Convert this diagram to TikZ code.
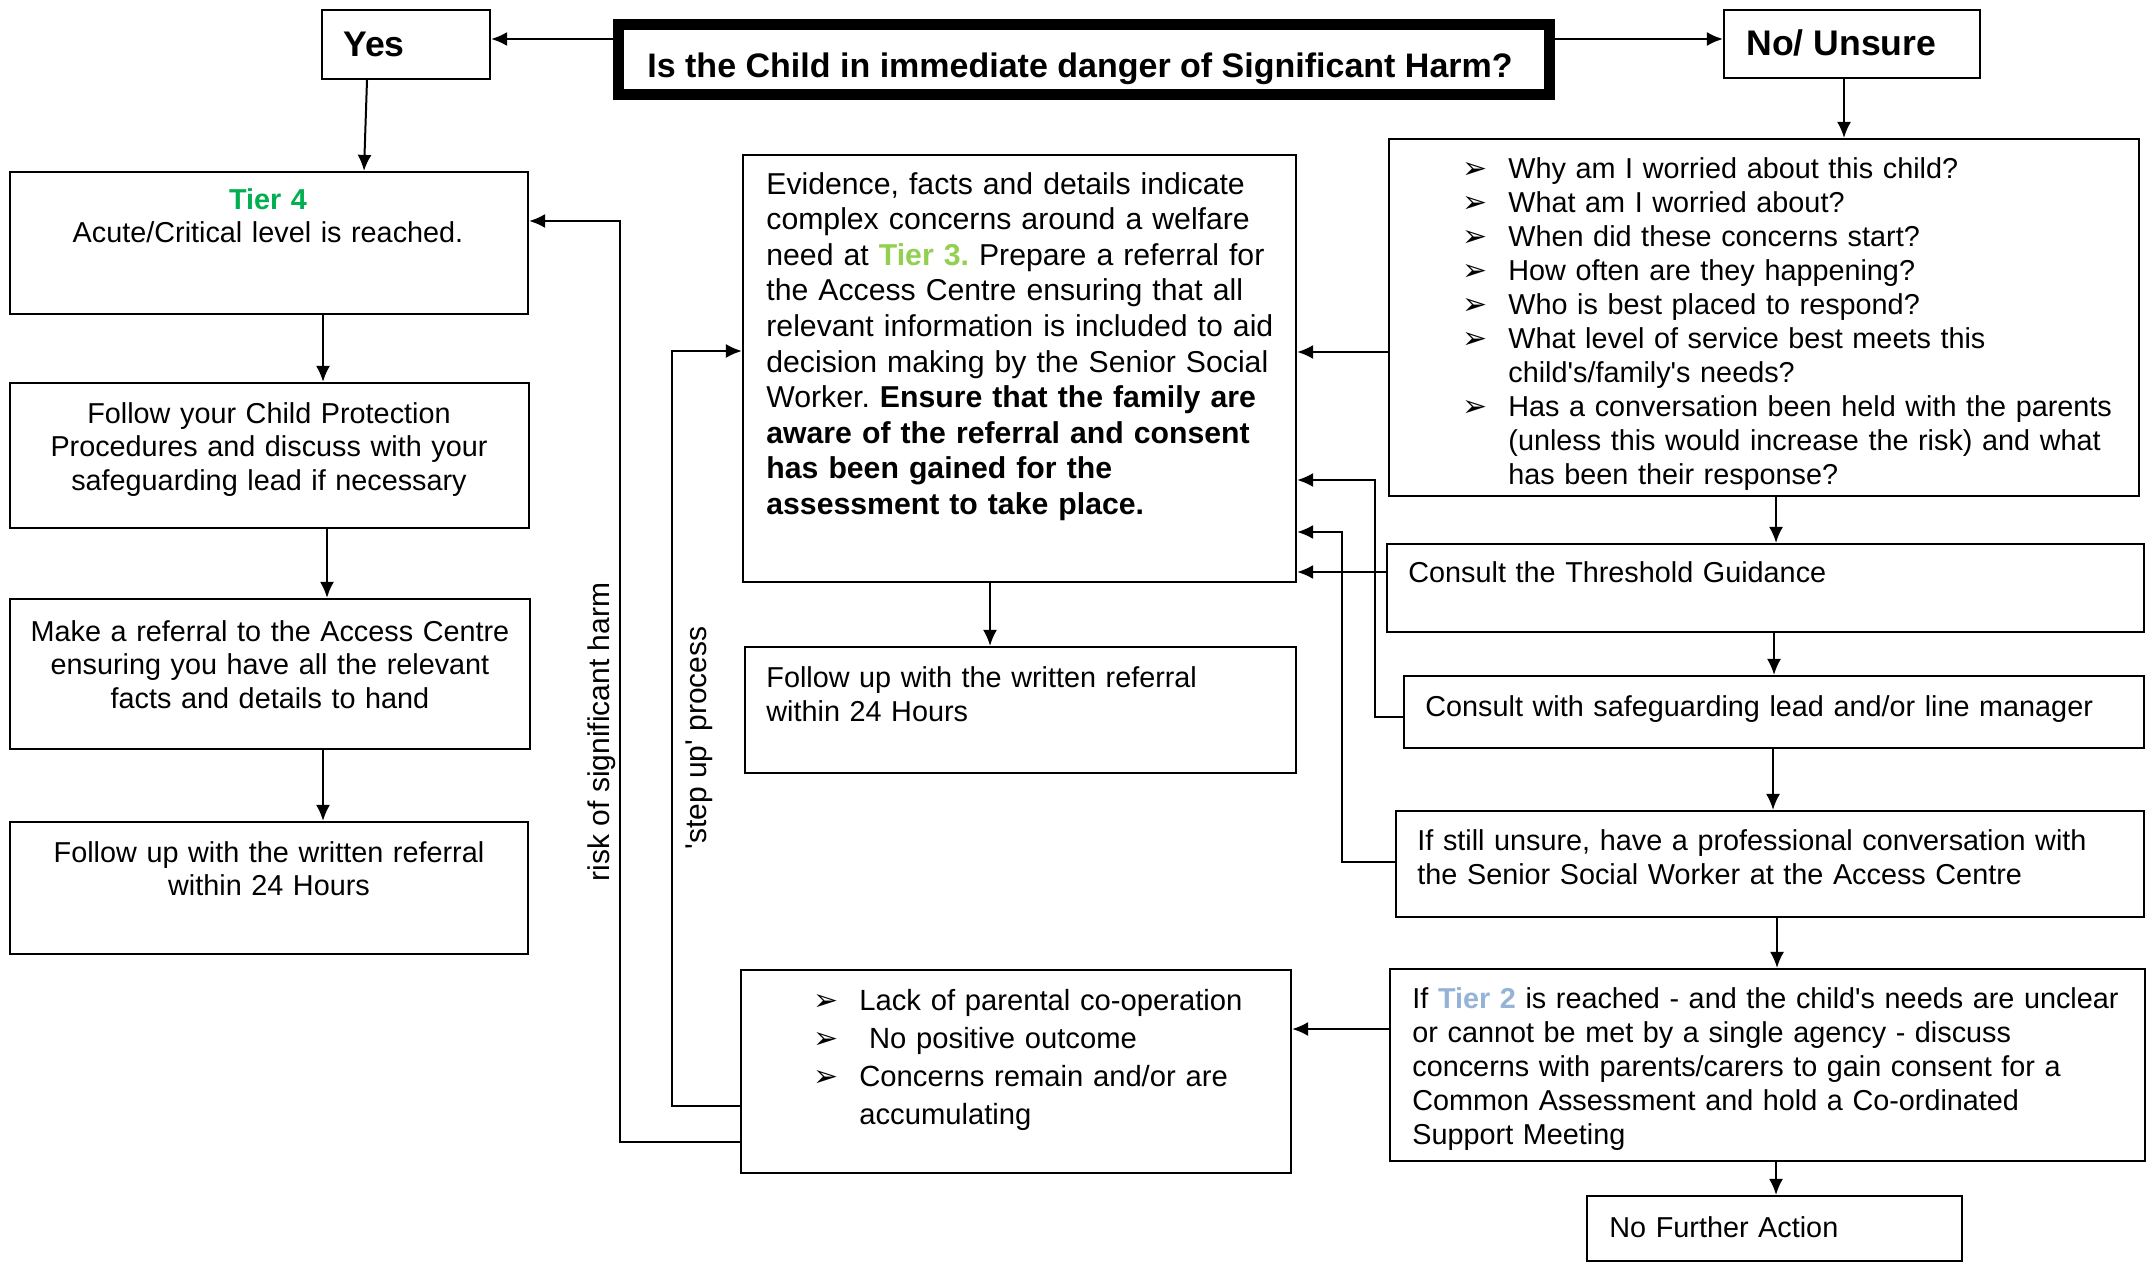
\documentclass[tikz,border=0pt]{standalone}
\usepackage{fontspec}
\newfontfamily\arial{Liberation Sans}
\newfontfamily\dejavu{DejaVu Sans}
\usetikzlibrary{arrows.meta,fit}
\definecolor{tfour}{HTML}{00B050}
\definecolor{tthree}{HTML}{92D050}
\definecolor{ttwo}{HTML}{95B3D7}
\newcommand\bul{\makebox[23pt][l]{\dejavu\fontsize{15pt}{15pt}\selectfont ➢}}
\begin{document}
\begin{tikzpicture}[x=0.5pt,y=-0.5pt,
  box/.style={draw=black, line width=1.1pt, inner sep=0pt},
  arr/.style={draw=black, line width=1pt, -{Latex[length=8pt,width=7pt]}},
  txt/.style={inner sep=0pt, anchor=base west, align=left, text width=380pt,
    font=\arial\frenchspacing\fontsize{14.4pt}{17pt}\selectfont},
  ctxt/.style={inner sep=0pt, anchor=base, align=center, text width=255pt,
    font=\arial\frenchspacing\fontsize{14.4pt}{16.75pt}\selectfont},
  hdr/.style={inner sep=0pt, anchor=base west, font=\arial\bfseries\fontsize{17.8pt}{20pt}\selectfont},
  side/.style={rotate=90, inner sep=0pt, font=\arial\fontsize{15pt}{18pt}\selectfont}
]
\useasboundingbox (0,0) rectangle (2156,1263);
\fill[white] (0,0) rectangle (2156,1263);

% top row
\node[draw=black, line width=5.5pt, inner sep=0pt, fit={(618.5,24.5)(1549.5,94.5)}] (title) {};
\draw[line width=0.7pt] ([shift={(4.5pt,-4.5pt)}]title.north west) rectangle ([shift={(-4.5pt,4.5pt)}]title.south east);
\node[inner sep=0pt, anchor=base, font=\arial\bfseries\fontsize{17pt}{20pt}\selectfont] (titlet) at (1080,78) {Is the Child in immediate danger of Significant Harm?};
\node[box, fit={(322,10)(490,79)}] (yes) {};
\node[hdr] (yest) at (343,57) {Yes};
\node[box, fit={(1724,10)(1980,78)}] (no) {};
\node[hdr] (not) at (1746,56) {No/ Unsure};

% left column
\node[box, fit={(10,172)(528,314)}] (tier4) {};
\node[ctxt] (tier4t) at (268,209) {{\bfseries\color{tfour}Tier 4}\\Acute/Critical level is reached.};
\node[box, fit={(10,383)(529,528)}] (cp) {};
\node[ctxt] (cpt) at (269,423) {Follow your Child Protection\\Procedures and discuss with your\\safeguarding lead if necessary};
\node[box, fit={(10,599)(530,749)}] (ref) {};
\node[ctxt] (reft) at (270,641) {Make a referral to the Access Centre\\ensuring you have all the relevant\\facts and details to hand};
\node[box, fit={(10,822)(528,954)}] (fu1) {};
\node[ctxt] (fu1t) at (269,862) {Follow up with the written referral\\within 24 Hours};

% side labels
\node[side] (risk) at (602,732) {risk of significant harm};
\node[side] (stepup) at (699,738) {'step up' process};

% middle column
\node[box, fit={(743,155)(1296,582)}] (evid) {};
\node[txt, font=\arial\frenchspacing\fontsize{15.1pt}{17.8pt}\selectfont] (evidt) at (766,194) {Evidence, facts and details indicate\\complex concerns around a welfare\\need at {\bfseries\color{tthree}Tier 3.} Prepare a referral for\\the Access Centre ensuring that all\\relevant information is included to aid\\decision making by the Senior Social\\Worker. \textbf{Ensure that the family are}\\\textbf{aware of the referral and consent}\\\textbf{has been gained for the}\\\textbf{assessment to take place.}};
\node[box, fit={(745,647)(1296,773)}] (fu2) {};
\node[txt] (fu2t) at (766,687) {Follow up with the written referral\\within 24 Hours};
\node[box, fit={(741,970)(1291,1173)}] (lack) {};
\node[txt, font=\arial\frenchspacing\fontsize{14.6pt}{19pt}\selectfont] (lackt) at (813,1010) {\bul Lack of parental co-operation\\\bul\ No positive outcome\\\bul Concerns remain and/or are\\\hspace*{23pt}accumulating};

% right column
\node[box, fit={(1389,139)(2139,496)}] (q) {};
\node[txt] (qt) at (1462,178) {\bul Why am I worried about this child?\\\bul What am I worried about?\\\bul When did these concerns start?\\\bul How often are they happening?\\\bul Who is best placed to respond?\\\bul What level of service best meets this\\\hspace*{23pt}child's/family's needs?\\\bul Has a conversation been held with the parents\\\hspace*{23pt}(unless this would increase the risk) and what\\\hspace*{23pt}has been their response?};
\node[box, fit={(1387,544)(2144,632)}] (thr) {};
\node[txt] (thrt) at (1408,582) {Consult the Threshold Guidance};
\node[box, fit={(1404,676)(2144,748)}] (sg) {};
\node[txt] (sgt) at (1425,716) {Consult with safeguarding lead and/or line manager};
\node[box, fit={(1396,811)(2144,917)}] (uns) {};
\node[txt] (unst) at (1417,850) {If still unsure, have a professional conversation with\\the Senior Social Worker at the Access Centre};
\node[box, fit={(1390,969)(2145,1161)}] (t2) {};
\node[txt] (t2t) at (1412,1008) {If {\bfseries\color{ttwo}Tier 2} is reached - and the child's needs are unclear\\or cannot be met by a single agency - discuss\\concerns with parents/carers to gain consent for a\\Common Assessment and hold a Co-ordinated\\Support Meeting};
\node[box, fit={(1587,1196)(1962,1261)}] (nfa) {};
\node[txt] (nfat) at (1609,1237) {No Further Action};

% connectors
\draw[arr] (title.west |- 0,39) -- (yes.east |- 0,39);
\draw[arr] (title.east |- 0,39) -- (no.west |- 0,39);
\draw[arr] (yes.south -| 367,0) -- (tier4.north -| 364,0);
\draw[arr] (tier4.south -| 323,0) -- (cp.north -| 323,0);
\draw[arr] (cp.south -| 327,0) -- (ref.north -| 327,0);
\draw[arr] (ref.south -| 323,0) -- (fu1.north -| 323,0);
\draw[arr] (lack.west |- 0,1142) -- (620,1142) -- (620,221) -- (tier4.east |- 0,221);
\draw[arr] (lack.west |- 0,1106) -- (672,1106) -- (672,351) -- (evid.west |- 0,351);
\draw[arr] (evid.south -| 990,0) -- (fu2.north -| 990,0);
\draw[arr] (no.south -| 1844,0) -- (q.north -| 1844,0);
\draw[arr] (q.west |- 0,352) -- (evid.east |- 0,352);
\draw[arr] (q.south -| 1776,0) -- (thr.north -| 1776,0);
\draw[arr] (thr.west |- 0,572) -- (evid.east |- 0,572);
\draw[arr] (thr.south -| 1774,0) -- (sg.north -| 1774,0);
\draw[arr] (sg.west |- 0,717) -- (1375,717) -- (1375,480) -- (evid.east |- 0,480);
\draw[arr] (sg.south -| 1773,0) -- (uns.north -| 1773,0);
\draw[arr] (uns.west |- 0,862) -- (1342,862) -- (1342,532) -- (evid.east |- 0,532);
\draw[arr] (uns.south -| 1777,0) -- (t2.north -| 1777,0);
\draw[arr] (t2.west |- 0,1029) -- (lack.east |- 0,1029);
\draw[arr] (t2.south -| 1776,0) -- (nfa.north -| 1776,0);
\end{tikzpicture}
\end{document}
